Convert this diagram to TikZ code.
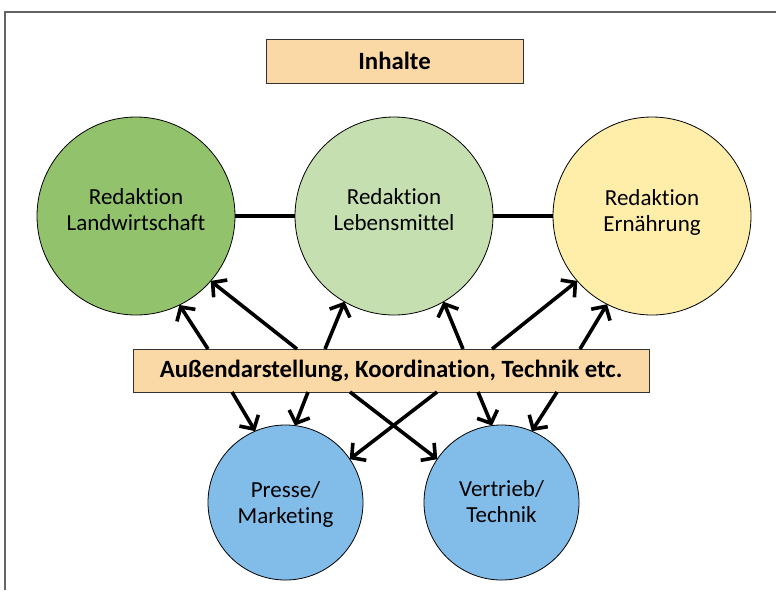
\documentclass[tikz,border=0pt]{standalone}
\usepackage{fontspec}
\setmainfont{Carlito}[Ligatures=NoCommon]
\usetikzlibrary{arrows.meta,calc}
\definecolor{boxfill}{RGB}{251,217,167}
\definecolor{lwgreen}{RGB}{146,195,108}
\definecolor{lmgreen}{RGB}{197,223,176}
\definecolor{erngelb}{RGB}{255,237,170}
\definecolor{blau}{RGB}{130,189,234}
\definecolor{rahmen}{RGB}{100,100,100}
\tikzset{
  bigcirc/.style={circle, draw=black, line width=0.8pt, minimum size=198pt, inner sep=0pt, outer sep=0pt},
  smallcirc/.style={circle, draw=black, line width=0.8pt, minimum size=155pt, inner sep=0pt, outer sep=0pt},
  label text/.style={align=center, font=\fontsize{23}{26}\selectfont, inner sep=0pt},
  bar/.style={draw=black!80, line width=0.9pt, fill=boxfill, inner sep=0pt, outer sep=0pt,
              font=\fontsize{24.8}{28}\selectfont\bfseries},
  link/.style={line width=3.2pt},
  flow/.style={line width=3.6pt, -{Straight Barb[length=10pt,width=22pt]}},
}
\begin{document}
\begin{tikzpicture}[x=1pt,y=-1pt]
\useasboundingbox (0,0) rectangle (776,590);
% frame
\draw[rahmen, line width=1.6pt] (776,12) -- (5,12) -- (5,590);

% header box
\node[bar, minimum width=257pt, minimum height=44pt] (inh) at (394.5,61) {Inhalte};

% editorial circles
\node[bigcirc, fill=lwgreen] (lw) at (136,216) {};
\node[bigcirc, fill=lmgreen] (lm) at (394,216) {};
\node[bigcirc, fill=erngelb] (er) at (652,216) {};
\node[label text, yshift=6pt] (lwt) at (lw) {Redaktion\\Landwirtschaft};
\node[label text, yshift=6pt] (lmt) at (lm) {Redaktion\\Lebensmittel};
\node[label text, yshift=3.8pt] (ert) at (er) {Redaktion\\Ernährung};
\draw[link] (lw.east) -- (lm.west);
\draw[link] (lm.east) -- (er.west);

% service circles
\node[smallcirc, fill=blau] (pm) at (285.5,502.5) {};
\node[smallcirc, fill=blau] (vt) at (501.5,502.5) {};
\node[label text, yshift=-1.7pt] (pmt) at (pm) {Presse/\\Marketing};
\node[label text, yshift=0.5pt] (vtt) at (vt) {Vertrieb/\\Technik};

% central bar
\node[bar, minimum width=516pt, minimum height=43pt] (mid) at (391,370.5)
  {Außendarstellung, Koordination, Technik etc.};

% start points on the bar
\coordinate (u1) at ($(mid.north west)+(75,0)$);
\coordinate (u2) at ($(mid.north west)+(164,0)$);
\coordinate (u3) at ($(mid.north west)+(192,0)$);
\coordinate (u4) at ($(mid.north west)+(330,0)$);
\coordinate (u5) at ($(mid.north west)+(359,0)$);
\coordinate (u6) at ($(mid.north west)+(447,0)$);
\coordinate (d1) at ($(mid.south west)+(99,0)$);
\coordinate (d2) at ($(mid.south west)+(175,0)$);
\coordinate (d3) at ($(mid.south west)+(217,0)$);
\coordinate (d4) at ($(mid.south west)+(304,0)$);
\coordinate (d5) at ($(mid.south west)+(345,0)$);
\coordinate (d6) at ($(mid.south west)+(424,0)$);

% upward arrows
\draw[flow] (u1) -- (lw.-64);
\draw[flow] (u2) -- (lw.-41);
\draw[flow] (u3) -- (lm.-120);
\draw[flow] (u4) -- (lm.-60.6);
\draw[flow] (u5) -- (er.-139);
\draw[flow] (u6) -- (er.-117);

% downward arrows
\draw[flow] (d1) -- (pm.113.6);
\draw[flow] (d2) -- (pm.83);
\draw[flow] (d3) -- (vt.146);
\draw[flow] (d4) -- (pm.34);
\draw[flow] (d5) -- (vt.97);
\draw[flow] (d6) -- (vt.67);
\end{tikzpicture}
\end{document}
